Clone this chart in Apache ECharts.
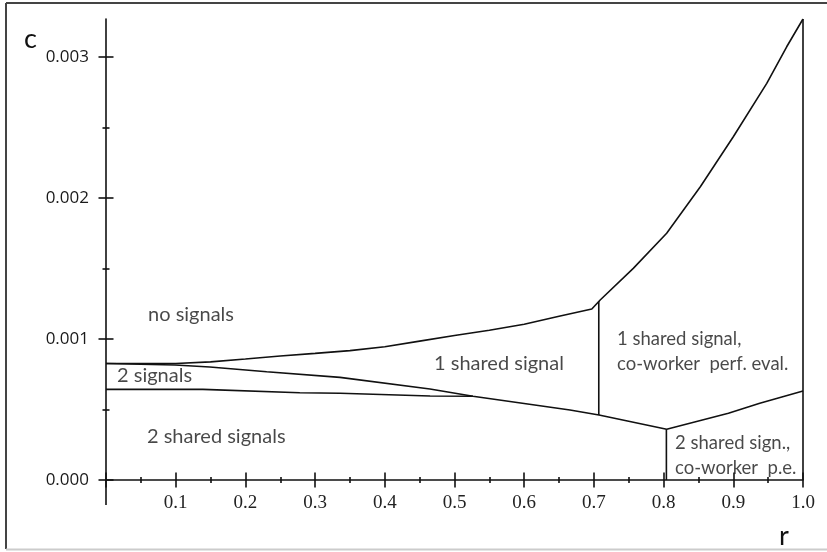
<!DOCTYPE html>
<html><head><meta charset="utf-8">
<script src="https://cdn.jsdelivr.net/npm/echarts@6/dist/echarts.min.js"></script>
<style>html,body{margin:0;padding:0;background:#fff}#c{width:827px;height:552px}</style>
</head><body><div id="c"></div>
<script>
// ---- data ----
const xTickValues = [0, 0.1, 0.2, 0.3, 0.4, 0.5, 0.6, 0.7, 0.8, 0.9, 1.0];
const xTickLabels = ['', '0.1', '0.2', '0.3', '0.4', '0.5', '0.6', '0.7', '0.8', '0.9', '1.0'];
const xMinorTicks = [0.05, 0.15, 0.25, 0.35, 0.45, 0.55, 0.65, 0.75, 0.85, 0.95];
const yTickValues = [0, 0.001, 0.002, 0.003];
const yTickLabels = ['0.000', '0.001', '0.002', '0.003'];
const yMinorTicks = [0.0005, 0.0015, 0.0025];

// upper boundary (no signals | others)
const upperR = [0, 0.1, 0.15, 0.2, 0.25, 0.3, 0.35, 0.4, 0.45, 0.5, 0.55, 0.6, 0.65, 0.697, 0.709, 0.7565, 0.8044, 0.8527, 0.9, 0.948, 0.9766, 1.0];
const upperC = [0.000826, 0.000826, 0.000838, 0.000858, 0.00088, 0.000898, 0.000918, 0.000945, 0.000985, 0.001025, 0.001062, 0.001105, 0.001162, 0.001213, 0.001277, 0.001501, 0.00175, 0.00208, 0.002435, 0.002813, 0.003073, 0.00327];
// middle boundary (2 signals / 1 shared signal lower edge)
const middleR = [0, 0.099, 0.149, 0.2306, 0.3357, 0.4648, 0.5265, 0.6657, 0.7073, 0.8044, 0.893, 0.938, 1.0];
const middleC = [0.000826, 0.000816, 0.000801, 0.000768, 0.000728, 0.000645, 0.000594, 0.000496, 0.000461, 0.00036, 0.000473, 0.000544, 0.000631];
// lower boundary of "2 signals"
const lowerR = [0, 0.139, 0.278, 0.336, 0.465, 0.5265];
const lowerC = [0.000643, 0.000643, 0.000619, 0.000615, 0.000596, 0.000594];
// vertical boundaries
const vertR = [0.707, 0.804, 1.0];
const vertLow = [0.000461, 0, 0];
const vertHigh = [0.00127, 0.00036, 0.00327];

// region labels
const regionNames = ['no signals', '2 signals', '2 shared signals', '1 shared signal',
  '1 shared signal,\nco-worker  perf. eval.', '2 shared sign.,\nco-worker  p.e.'];
const regionR = [0.0603, 0.0158, 0.0588, 0.4706, 0.7331, 0.8164];
const regionC = [0.001177, 0.000738, 0.000305, 0.000823, 0.000908, 0.000177];
const regionFontSize = [20, 20, 20, 20, 18.5, 18.5];

const Y_MAX = 0.00327;
const INK = '#111';
const LINE_W = 1.6;

function pairs(rs, cs) { return rs.map((r, i) => [r, cs[i]]); }
function lineSeries(data) {
  return { type: 'line', data: data, xAxisIndex: 0, yAxisIndex: 0, showSymbol: false, symbol: 'none',
    silent: true, lineStyle: { color: INK, width: LINE_W }, animation: false };
}

const series = [
  lineSeries(pairs(upperR, upperC)),
  lineSeries(pairs(middleR, middleC)),
  lineSeries(pairs(lowerR, lowerC))
];
vertR.forEach((r, i) => series.push(lineSeries([[r, vertLow[i]], [r, vertHigh[i]]])));
series.push({
  type: 'scatter', xAxisIndex: 0, yAxisIndex: 0, symbolSize: 0, silent: true, animation: false,
  data: regionNames.map((n, i) => ({ value: [regionR[i], regionC[i]], name: n,
    label: { fontSize: regionFontSize[i] } })),
  label: { show: true, position: 'right', distance: 0, formatter: p => p.name,
    fontFamily: 'Lato', fontSize: 20, color: '#1a1a1a', lineHeight: 25, align: 'left', verticalAlign: 'middle' }
});

const axisColor = INK;
function xAx(extra) {
  return Object.assign({ type: 'value', min: 0, max: 1, gridIndex: 0, position: 'bottom',
    splitLine: { show: false }, axisLine: { show: false }, axisLabel: { show: false },
    axisTick: { show: false } }, extra);
}
function yAx(extra) {
  return Object.assign({ type: 'value', min: 0, max: Y_MAX, gridIndex: 0, position: 'left',
    splitLine: { show: false }, axisLine: { show: false }, axisLabel: { show: false },
    axisTick: { show: false } }, extra);
}

const option = {
  backgroundColor: '#fff',
  animation: false,
  grid: { left: 106, right: 24, top: 19, bottom: 72, containLabel: false },
  xAxis: [
    xAx({ axisLine: { show: true, onZero: false, lineStyle: { color: axisColor, width: LINE_W } },
      axisLabel: { show: true, customValues: xTickValues.slice(1), margin: 14,
        formatter: v => { const i = xTickValues.findIndex(t => Math.abs(t - v) < 1e-9); return i >= 0 ? xTickLabels[i] : ''; },
        fontFamily: 'Liberation Serif', fontSize: 19, color: '#222' } }),
    xAx({ offset: -7.5, axisTick: { show: true, customValues: xTickValues, length: 15, inside: false,
      lineStyle: { color: axisColor, width: LINE_W } } }),
    xAx({ offset: -3, axisTick: { show: true, customValues: xMinorTicks, length: 6, inside: false,
      lineStyle: { color: axisColor, width: LINE_W } } })
  ],
  yAxis: [
    yAx({ axisLine: { show: true, onZero: false, lineStyle: { color: axisColor, width: LINE_W } },
      axisLabel: { show: true, customValues: yTickValues, margin: 17,
        formatter: v => { const i = yTickValues.findIndex(t => Math.abs(t - v) < 1e-12); return i >= 0 ? yTickLabels[i] : ''; },
        fontFamily: 'Open Sans', fontSize: 17, color: '#1a1a1a' } }),
    yAx({ offset: -7.5, axisTick: { show: true, customValues: yTickValues, length: 15, inside: false,
      lineStyle: { color: axisColor, width: LINE_W } } }),
    yAx({ offset: -3.5, axisTick: { show: true, customValues: yMinorTicks, length: 7, inside: false,
      lineStyle: { color: axisColor, width: LINE_W } } })
  ],
  series: series
};

const chart = echarts.init(document.getElementById('c'), null, { renderer: 'canvas' });
chart.setOption(option);

// axis decoration: y-axis line continues below the x-axis; axis names; frame
const p0 = chart.convertToPixel({ xAxisIndex: 0, yAxisIndex: 0 }, [0, 0]);
chart.setOption({
  graphic: [
    { type: 'line', shape: { x1: p0[0], y1: p0[1], x2: p0[0], y2: p0[1] + 25 }, style: { stroke: axisColor, lineWidth: LINE_W }, silent: true },
    { type: 'text', left: 24, top: 26, style: { text: 'c', font: '27px Lato', fill: '#111' }, silent: true },
    { type: 'text', left: 779, top: 523, style: { text: 'r', font: '27px Lato', fill: '#111' }, silent: true },
    { type: 'line', shape: { x1: 6, y1: 3, x2: 6, y2: 549 }, style: { stroke: '#444', lineWidth: 2 }, silent: true },
    { type: 'line', shape: { x1: 6, y1: 3, x2: 827, y2: 3 }, style: { stroke: '#444', lineWidth: 2 }, silent: true },
    { type: 'line', shape: { x1: 6, y1: 549.5, x2: 827, y2: 549.5 }, style: { stroke: '#ccc', lineWidth: 2 }, silent: true }
  ]
});
</script>
</body></html>
